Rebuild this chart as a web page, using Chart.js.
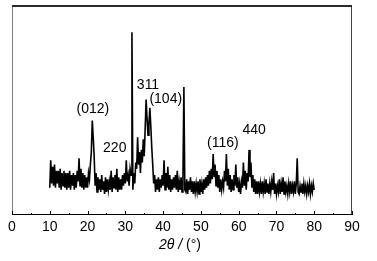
<!DOCTYPE html>
<html>
<head>
<meta charset="utf-8">
<script src="https://cdn.jsdelivr.net/npm/chart.js@4.4.0/dist/chart.umd.min.js"></script>
<style>
html,body{margin:0;padding:0;background:#fff;}
#wrap{width:377px;height:261px;}
</style>
</head>
<body>
<div id="wrap"><canvas id="c" width="377" height="261"></canvas></div>
<script>
// ---- data ----
const twoThetaStart = 10;      // first angle (deg)
const twoThetaStep = 0.25;     // angle step (deg)
const intensity = [
  13,26,15,23, 14,24,13,21, 15,21,13,22, 12,20,14,21, 13,20,12,20,   // 10-14
  13,21,12,19, 14,20,12,19, 13,21,16,27, 14,22,13,20, 12,19,13,18,   // 15-19
  13,20,17,24, 30,45,37,28, 14,20,11,18, 12,17,11,19, 12,16,10,18,   // 20-24
  11,17,12,16, 12,21,11,18, 13,19,12,22, 11,18,12,17, 12,19,14,20,   // 25-29
  15,26,16,19, 14,22,19,87, 12,20,15,25, 22,37,24,30, 20,31,25,36,   // 30-34
  28,41,55,46, 38,44,51,42, 32,24,15,19, 11,17,12,18, 11,17,13,19,   // 35-39
  14,26,12,20, 13,23,12,19, 11,17,12,18, 13,19,12,21, 11,16,12,18,   // 40-44
  11,17,61,12, 11,17,10,16, 12,18,11,16, 10,16,11,15, 11,16,10,17,   // 45-49
  11,15,10,17, 12,18,13,19, 14,21,15,22, 17,29,18,24, 14,21,13,19,   // 50-54
  11,17,12,16, 13,21,16,29, 14,22,12,19, 11,17,12,19, 14,24,13,18,   // 55-59
  11,15,10,16, 13,25,14,21, 12,20,16,31, 18,25,13,19, 11,17,10,16,   // 60-64
  10,16,11,15, 10,16,11,15, 10,17,11,15, 10,15,11,16, 12,20,10,15,   // 65-69
  10,14,11,17, 10,15,11,18, 10,16,11,14, 10,15,11,16, 10,14,11,16,   // 70-74
  10,15,27,11, 10,14,11,15, 10,15,11,14, 10,14,11,15, 10,14,11,15,   // 75-79
  12                                                                  // 80
];
const xTickValues = [0,10,20,30,40,50,60,70,80,90];
const xMinorTickValues = [5,15,25,35,45,55,65,75,85];
const peakLabels = ['(012)','220','311','(104)','(116)','440'];
const peakLabelX = [21.4, 27.2, 36.0, 40.7, 55.8, 64.1];
const peakLabelY = [50.6, 32.0, 62.0, 55.4, 34.4, 40.6];
const xTitleItalic = '2θ /';
const xTitleUpright = ' (°)';

const points = intensity.map((v, i) => ({x: twoThetaStart + i * twoThetaStep, y: v}));
const FONT = '"Liberation Sans", Arial, sans-serif';

const framePlugin = {
  id: 'frame',
  afterDraw(chart) {
    const {ctx, chartArea: a, scales: {x, y}} = chart;
    ctx.save();
    ctx.lineWidth = 1;
    ctx.strokeStyle = '#808080';
    ctx.beginPath(); ctx.moveTo(a.left + 0.5, a.top); ctx.lineTo(a.left + 0.5, a.bottom); ctx.stroke();
    ctx.strokeStyle = '#444';
    ctx.beginPath(); ctx.moveTo(a.right - 0.5, a.top); ctx.lineTo(a.right - 0.5, a.bottom); ctx.stroke();
    ctx.strokeStyle = '#2a2a2a';
    ctx.lineWidth = 2;
    ctx.beginPath(); ctx.moveTo(a.left, a.top + 1); ctx.lineTo(a.right, a.top + 1); ctx.stroke();
    ctx.strokeStyle = '#000';
    ctx.lineWidth = 1;
    ctx.beginPath(); ctx.moveTo(a.left, a.bottom - 0.5); ctx.lineTo(a.right, a.bottom - 0.5); ctx.stroke();
    xTickValues.forEach(v => {
      const px = Math.round(x.getPixelForValue(v)) + 0.5;
      ctx.beginPath(); ctx.moveTo(px, a.bottom); ctx.lineTo(px, a.bottom - 4); ctx.stroke();
    });
    xMinorTickValues.forEach(v => {
      const px = Math.round(x.getPixelForValue(v)) + 0.5;
      ctx.beginPath(); ctx.moveTo(px, a.bottom); ctx.lineTo(px, a.bottom - 2); ctx.stroke();
    });
    ctx.fillStyle = '#000';
    ctx.font = '14px ' + FONT;
    ctx.textAlign = 'center';
    ctx.textBaseline = 'middle';
    peakLabels.forEach((t, i) => {
      ctx.fillText(t, x.getPixelForValue(peakLabelX[i]), y.getPixelForValue(peakLabelY[i]));
    });
    // axis title with italic 2θ
    const fItal = 'italic 14px ' + FONT, fUp = '14px ' + FONT;
    ctx.font = fItal; const w1 = ctx.measureText(xTitleItalic).width;
    ctx.font = fUp; const w2 = ctx.measureText(xTitleUpright).width;
    const cx = (a.left + a.right) / 2 - 2;
    const ty = a.bottom + 30;
    ctx.textAlign = 'left';
    ctx.font = fItal; ctx.fillText(xTitleItalic, cx - (w1 + w2) / 2, ty);
    ctx.font = fUp; ctx.fillText(xTitleUpright, cx - (w1 + w2) / 2 + w1, ty);
    ctx.restore();
  }
};

new Chart(document.getElementById('c'), {
  type: 'line',
  data: {
    datasets: [{
      data: points,
      borderColor: '#000',
      borderWidth: 1.6,
      pointRadius: 0,
      tension: 0,
      fill: false
    }]
  },
  options: {
    responsive: false,
    animation: false,
    devicePixelRatio: 1,
    parsing: false,
    layout: {padding: {left: 12, right: 25, top: 5, bottom: 0}},
    plugins: {legend: {display: false}, tooltip: {enabled: false}},
    scales: {
      x: {
        type: 'linear',
        min: 0, max: 90,
        afterBuildTicks(s) { s.ticks = xTickValues.map(v => ({value: v})); },
        afterFit(s) { s.height = 46; },
        grid: {display: false},
        border: {display: false},
        ticks: {
          color: '#000',
          font: {family: FONT, size: 14},
          padding: -4,
          maxRotation: 0,
          autoSkip: false
        },
        title: {display: false}
      },
      y: {
        type: 'linear',
        display: false,
        min: 0, max: 100
      }
    }
  },
  plugins: [framePlugin]
});
</script>
</body>
</html>
